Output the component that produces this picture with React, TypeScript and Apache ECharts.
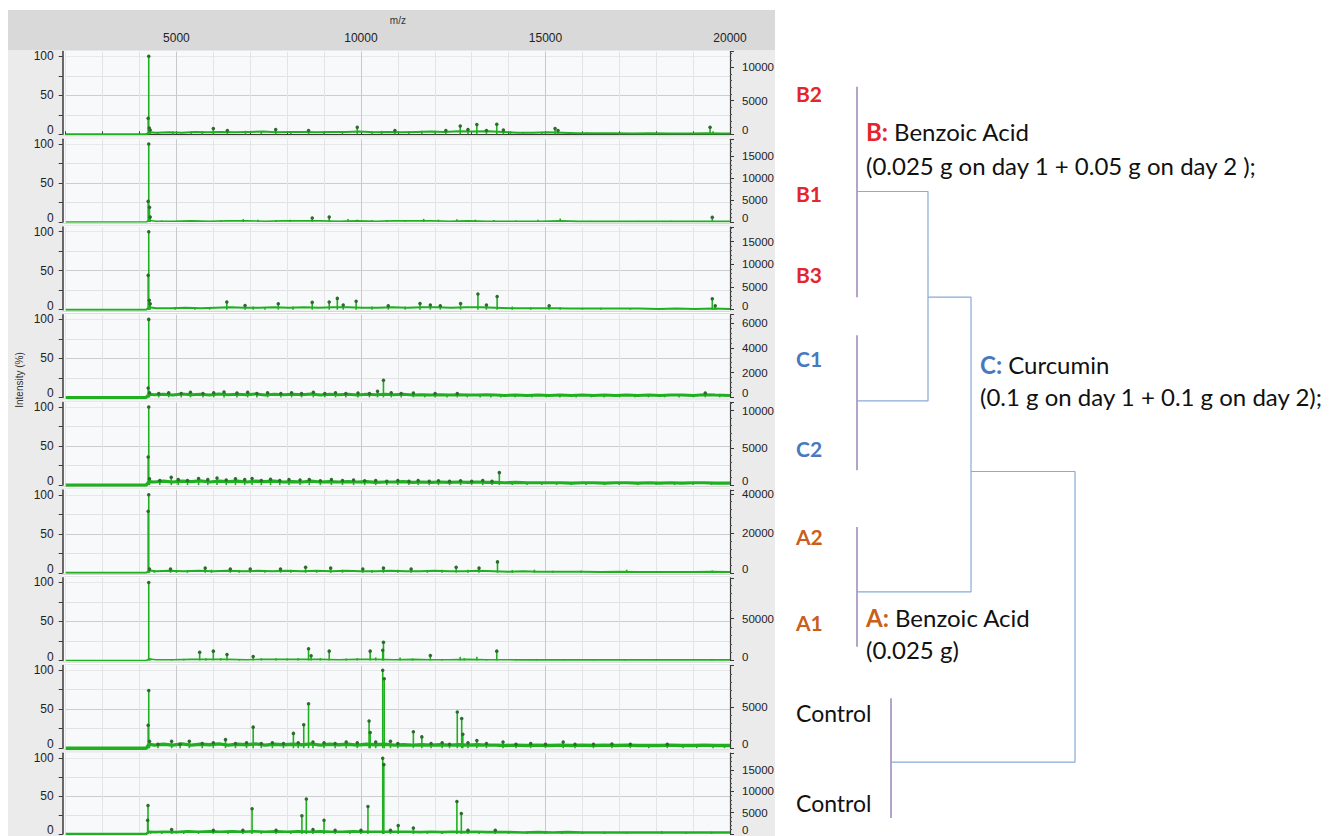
import React, { useEffect, useRef } from 'react';
import * as echarts from 'echarts';

// ---------------- data ----------------
const MZ_MIN = 2000;
const MZ_MAX = 20000;
const MZ_TICK = 1000;
const MZ_LABEL_STEP = 5000;

const sampleNames = ['B2', 'B1', 'B3', 'C1', 'C2', 'A2', 'A1', 'Control', 'Control'];
const sampleGroups = ['B', 'B', 'B', 'C', 'C', 'A', 'A', 'Control', 'Control'];

const intensityMax = 106;
const intensityStep = 25;
const countsAxisMax = [12300, 18800, 18200, 6670, 11100, 41900, 99000, 10000, 19000];
const countsAxisStep = [5000, 5000, 5000, 2000, 5000, 20000, 50000, 5000, 5000];

type P = [number, number];

const baselineB2: P[] = [[2000,0],[4180,0],[4260,2.5],[4450,2],[4800,2.5],[5150,2],[5500,3],[5850,2.5],[6200,3],[6600,2.5],[6950,3],[7350,3.5],[7700,2.5],[8050,3],[8450,3],[8800,2.5],[9200,3],[9600,3],[9950,3.5],[10350,2.5],[10750,3],[11100,2.5],[11500,3],[11900,3.5],[12250,3],[12650,4],[13000,3.5],[13450,4],[13850,3],[14250,2],[14650,2],[15050,2.5],[15450,2],[15850,1.5],[16350,1.5],[16850,1.5],[17350,1],[17850,1.5],[18350,1],[18850,1],[19350,1.5],[19800,1],[20000,1]];
const peaksB2: P[] = [[4235,20.5],[4250,100],[4265,8],[4290,5.5],[4500,3],[4900,3.5],[5400,3.5],[5700,4],[6000,7.5],[6380,5],[6870,4.5],[7300,4],[7690,6],[8100,4],[8580,5],[9000,3.5],[9500,4],[9900,9],[10300,4],[10560,4.5],[10920,5],[11300,3.5],[11650,4.5],[12010,4.5],[12300,5],[12690,10.5],[12900,6],[13140,12.5],[13400,5],[13680,13],[13860,5.5],[14050,4],[14400,3],[14900,3],[15260,7.5],[15340,5],[15700,2.5],[16130,2.5],[17020,2],[17750,2],[18500,1.5],[19460,9],[19540,4]];

const baselineB1: P[] = [[2000,0],[4180,0],[4260,2],[4450,1],[4900,1],[5400,1.5],[5900,1],[6400,1.5],[6900,1.5],[7400,1],[7900,1.5],[8400,1.5],[8900,1.5],[9400,1],[9900,1.5],[10400,1],[10900,1.5],[11400,1.5],[11900,1.5],[12400,1],[12900,1.5],[13400,1],[13900,1],[14400,1],[14900,1],[15400,1.5],[15900,0.8],[16400,1],[16900,0.8],[17400,1],[17900,0.8],[18400,1],[18900,0.8],[19400,1],[20000,0.8]];
const peaksB1: P[] = [[4235,26.5],[4250,100],[4270,18.8],[4290,6.4],[4600,2],[5200,1.5],[6200,2],[6810,3.8],[7210,3],[7700,2.5],[8080,3],[8680,5],[9140,6.4],[9650,4],[9900,3],[10300,2.5],[10710,2.5],[11200,2.5],[11700,4],[12100,3],[12600,3.5],[13100,3],[13600,2.5],[14200,2],[14800,3],[15400,4.5],[16200,1.5],[17500,1.5],[18400,1.5],[19520,6]];

const baselineB3: P[] = [[2000,0],[4180,0],[4260,3],[4450,2],[4850,2],[5250,2.5],[5650,2],[6050,2.5],[6450,3],[6850,2.5],[7250,2.5],[7650,3],[8050,2.5],[8450,3],[8850,2.5],[9250,3],[9650,3],[10050,2.5],[10450,2.5],[10850,3],[11250,2.5],[11650,3],[12050,3],[12450,2.5],[12850,3],[13250,3],[13650,2.5],[14050,2],[14450,2],[14850,2],[15250,2],[15650,1.5],[16050,1.5],[16550,1.5],[17050,1.5],[17550,1.5],[18050,1],[18550,1.5],[19050,1],[19550,1.5],[20000,1]];
const peaksB3: P[] = [[4235,44],[4250,100],[4265,12],[4290,7.7],[4965,3.4],[5500,3],[5900,3],[6365,9.8],[6860,5.5],[7080,4],[7400,3],[7760,7.7],[8160,4],[8680,9.4],[9140,9.8],[9360,14.5],[9520,6],[9870,10.7],[10300,4],[10740,5],[11200,4],[11600,8],[11880,6],[12150,5],[12700,8],[13170,20],[13400,6],[13690,17],[14100,4],[14600,3],[15100,5],[15400,3],[16000,2],[16500,2.5],[17300,2],[18200,2],[19520,14],[19600,5]];

const baselineC1: P[] = [[2000,0],[4180,0],[4260,4],[4400,3.5],[4650,4],[4900,3],[5150,4.5],[5400,3.5],[5650,4],[5900,3],[6150,4.5],[6400,3.5],[6650,4],[6900,3.5],[7150,4.5],[7400,3],[7650,4],[7900,3.5],[8150,4],[8400,3.5],[8650,4.5],[8900,3],[9150,4],[9400,3.5],[9650,4],[9900,3],[10150,4],[10400,3.5],[10650,4],[10900,3.5],[11150,4],[11400,3],[11650,3.5],[11900,3],[12150,3.5],[12400,3],[12650,3.5],[12900,3],[13150,3],[13400,3.5],[13650,3],[13900,2.5],[14200,3],[14500,2.5],[14800,3],[15100,2.5],[15400,3],[15700,2.5],[16000,3],[16300,2.5],[16600,3],[16900,2.5],[17200,3],[17500,2.5],[17800,3],[18100,2.5],[18400,3],[18700,3],[19000,2.5],[19300,3.5],[19600,3],[20000,2.5]];
const peaksC1: P[] = [[4235,12],[4250,100],[4270,6],[4520,5],[4790,6],[5130,5],[5380,6.5],[5720,5],[6010,6],[6290,7],[6640,5.5],[6930,6.5],[7180,5],[7470,6],[7830,5],[8120,6],[8390,5],[8710,6.5],[9020,5],[9310,6],[9590,5],[9920,5.5],[10230,5],[10450,8],[10610,22],[10820,6],[11090,5],[11420,5.5],[11730,4.5],[12010,5],[12330,4.5],[12610,5],[12880,4.5],[13230,4],[13520,4.5],[13790,4],[14180,4],[14630,3.5],[15020,3.5],[15390,4],[15830,3.5],[16240,4],[16590,3.5],[17010,4],[17420,3.5],[17790,4],[18230,3.5],[18620,4.5],[19010,4],[19330,5.5],[19720,4.5]];

const baselineC2: P[] = [[2000,0],[4180,0],[4260,4.5],[4400,4],[4650,5],[4900,4],[5150,5],[5400,4.5],[5650,5.5],[5900,4],[6150,5],[6400,4.5],[6650,5],[6900,4],[7150,5],[7400,4.5],[7650,5],[7900,4],[8150,4.5],[8400,4],[8650,5],[8900,4],[9150,4.5],[9400,4],[9650,4.5],[9900,4],[10150,4.5],[10400,3.5],[10650,4],[10900,4],[11150,4.5],[11400,3.5],[11650,4],[11900,3.5],[12150,4],[12400,3.5],[12650,4],[12900,3.5],[13150,4],[13400,3.5],[13650,3.5],[13900,3],[14200,3.5],[14500,3],[14800,3],[15100,3],[15400,3],[15700,2.5],[16000,3],[16300,3],[16600,2.5],[16900,3],[17200,3],[17500,2.5],[17800,3],[18100,2.5],[18400,3],[18700,2.5],[19000,3],[19300,3],[19600,2.5],[20000,2.5]];
const peaksC2: P[] = [[4235,36],[4250,100],[4270,8],[4550,6],[4860,10],[5050,7],[5300,6],[5600,8.5],[5850,7],[6100,9],[6350,6.5],[6600,8],[6850,7],[7050,8.5],[7300,6],[7550,7.5],[7800,6],[8050,7],[8350,6.5],[8600,7],[8900,5.5],[9200,7],[9500,6],[9800,6.5],[10100,5.5],[10400,6],[10700,5],[11000,6],[11300,5],[11550,6],[11850,5],[12100,5.5],[12400,5],[12700,5.5],[13000,5],[13300,6],[13550,5],[13750,16],[14100,4.5],[14500,4],[14900,3.5],[15300,4],[15700,3.5],[16100,4],[16600,3.5],[17000,4],[17500,3],[18000,3.5],[18500,3],[19000,3.5],[19500,4]];

const baselineA2: P[] = [[2000,0],[4180,0],[4260,3],[4450,2],[4800,2.5],[5200,2],[5600,2.5],[6000,2],[6400,2.5],[6800,2],[7200,2.5],[7600,2],[8000,2.5],[8400,2],[8800,2.5],[9200,2],[9600,2.5],[10000,2],[10400,2],[10800,2.5],[11200,2],[11600,2],[12000,2.5],[12400,2],[12800,2],[13200,2.5],[13600,2],[14000,1.5],[14400,2],[14800,1.5],[15200,1.5],[15600,1.5],[16000,1.5],[16500,1],[17000,1.5],[17500,1],[18000,1],[18500,1],[19000,1],[19500,1.5],[20000,1]];
const peaksA2: P[] = [[4235,79],[4250,100],[4270,5],[4400,2],[4840,5],[5000,3.5],[5300,3],[5780,6],[5950,4],[6460,5],[6700,3.5],[7000,5],[7400,3],[7820,5],[8100,4],[8500,7],[8800,3.5],[9180,6],[9500,4],[10050,5],[10300,3.5],[10610,6],[11000,4],[11360,5],[11800,3.5],[12200,4],[12580,7],[12900,4],[13200,6],[13700,14],[14100,3.5],[14700,4],[15200,2.5],[15960,3],[16700,2],[17200,4],[18000,2],[18800,2],[19520,3]];

const baselineA1: P[] = [[2000,0],[4180,0],[4260,2],[4450,1],[4900,1],[5400,1.5],[5900,1.5],[6400,1.5],[6900,1],[7400,1.5],[7900,1.5],[8400,1.5],[8900,1.5],[9400,1],[9900,1.5],[10400,1.5],[10900,1],[11400,1.5],[11900,1],[12400,1],[12900,1.5],[13400,1],[13900,1],[14400,0.8],[14900,1],[15400,0.8],[15900,0.8],[16400,0.8],[16900,0.8],[17400,0.8],[17900,0.8],[18400,0.8],[18900,0.8],[19400,0.8],[20000,0.8]];
const peaksA1: P[] = [[4250,100],[4265,3],[4300,2.5],[4870,1.5],[5200,2],[5630,10.7],[5800,3],[6000,12],[6200,3],[6370,7.7],[6700,2],[7080,5],[7300,3],[7700,3],[8000,2.5],[8300,3],[8580,15],[8650,6],[8900,3],[9140,12],[9600,2.5],[9900,3],[10250,12],[10400,4],[10590,13],[10610,23.5],[11060,4],[11400,2.5],[11880,6.4],[12200,2],[12690,4.7],[12800,3],[13140,4.7],[13400,2],[13680,12],[14200,1.5],[14760,2],[15500,1.5],[16300,1.5],[17160,2],[18000,1],[19510,1.5]];

const baselineCtrl1: P[] = [[2000,0],[4180,0],[4260,5],[4400,4],[4650,5],[4900,4],[5150,5.5],[5400,4],[5650,5],[5900,4.5],[6150,5.5],[6400,4],[6650,5],[6900,4.5],[7150,5.5],[7400,4],[7650,5],[7900,4.5],[8150,5],[8400,4.5],[8650,5.5],[8900,4],[9150,5],[9400,4.5],[9650,5],[9900,4],[10150,5],[10400,4.5],[10650,5],[10900,4],[11150,4.5],[11400,4],[11650,4.5],[11900,4],[12150,4.5],[12400,4],[12650,4.5],[12900,4],[13150,4.5],[13400,4],[13650,4],[13900,3.5],[14200,4],[14500,3.5],[14800,4],[15100,3.5],[15400,4],[15700,3.5],[16000,4],[16300,3.5],[16600,4],[16900,3.5],[17200,4],[17500,3.5],[17800,3.5],[18100,3.5],[18400,4],[18700,3.5],[19000,3.5],[19300,4],[19600,3.5],[20000,3.5]];
const peaksCtrl1: P[] = [[4235,29.5],[4250,74],[4270,9],[4500,5],[4870,9],[5100,5],[5350,9],[5700,6],[6000,7],[6330,11],[6600,6],[6900,7],[7080,27],[7300,6],[7600,7],[7900,6],[8170,19],[8300,7],[8450,30],[8580,57],[8700,8],[9000,7],[9300,6],[9600,8],[9900,7],[10220,35],[10250,20],[10400,8],[10590,100],[10630,89],[10800,9],[11000,6],[11420,21],[11650,14.5],[11900,6],[12200,7],[12400,5],[12610,46.5],[12730,38],[12760,18],[12900,7],[13140,10],[13400,6],[13850,8],[14200,5],[14600,6],[15000,5],[15480,8],[15800,5],[16300,5],[16800,5.5],[17300,5],[17800,4.5],[18300,5],[18730,4],[19100,4.5],[19540,4],[19850,4]];

const baselineCtrl2: P[] = [[2000,0],[4180,0],[4260,3],[4400,2.5],[4700,3],[5000,2.5],[5300,3.5],[5600,3],[5900,3.5],[6200,3],[6500,3.5],[6800,3],[7100,3.5],[7400,3],[7700,3.5],[8000,3],[8300,3.5],[8600,3],[8900,3.5],[9200,3],[9500,3],[9800,3.5],[10100,3],[10400,3],[10700,3],[11000,3],[11300,3],[11600,2.5],[11900,3],[12200,2.5],[12500,3],[12800,2.5],[13100,3],[13400,2.5],[13700,2.5],[14000,2.5],[14400,2],[14800,2.5],[15200,2],[15600,2.5],[16000,2],[16400,2],[16800,2],[17200,2],[17600,2],[18000,2],[18400,2],[18800,2],[19200,2],[19600,2],[20000,2]];
const peaksCtrl2: P[] = [[4220,18],[4230,37.5],[4300,3],[4600,3],[4870,6],[5200,3],[5600,4],[6000,5],[6400,4],[6800,5],[7050,33],[7300,4],[7700,5],[8100,4],[8400,24],[8520,46],[8700,6],[9000,18],[9300,5],[9700,4],[10000,5],[10190,36],[10590,99.5],[10620,91],[10800,5],[11010,11],[11420,8],[11800,4],[12200,4],[12600,42.6],[12720,27],[12900,5],[13200,4],[13640,5],[14000,3],[14500,3],[15000,3],[15440,4],[16000,3],[16600,3],[17200,2.5],[18150,4],[18800,2.5],[19500,3]];

const spectraBaselines = [baselineB2, baselineB1, baselineB3, baselineC1, baselineC2, baselineA2, baselineA1, baselineCtrl1, baselineCtrl2];
const spectraPeaks = [peaksB2, peaksB1, peaksB3, peaksC1, peaksC2, peaksA2, peaksA1, peaksCtrl1, peaksCtrl2];
const markerThreshold = 5;

// dendrogram (x: linkage distance, y: leaf position)
const leafPosition = [0, 1.13, 2.05, 2.99, 4.0, 5.0, 5.97, 6.99, 8.0];
const leafLabelDist = -0.61;
const groupBarDist = [0, 0, 0, 0.34];
const groupBarStart = [-0.07, 2.73, 4.89, 6.82];
const groupBarEnd = [2.30, 4.25, 6.24, 8.17];
const mergeDist = [0.71, 1.14, 2.18];
const mergeUpperDist = [0, 0.71, 1.14];
const mergeUpperPos = [1.11, 2.30, 4.265];
const mergeLowerDist = [0, 0, 0.34];
const mergeLowerPos = [3.47, 5.62, 7.54];

const annotations = [
  { key: 'B', head: 'B:', line1: ' Benzoic Acid', line2: '(0.025 g on day 1 + 0.05 g on day 2 );', x: 866, y1: 131, y2: 165 },
  { key: 'C', head: 'C:', line1: ' Curcumin', line2: '(0.1 g on day 1 + 0.1 g on day 2);', x: 980, y1: 364, y2: 396 },
  { key: 'A', head: 'A:', line1: ' Benzoic Acid', line2: '(0.025 g)', x: 866, y1: 617, y2: 649 },
];

// ---------------- styling / layout ----------------
const W = 1342;
const H = 836;
const PANEL_TOP0 = 51.6;
const PANEL_PITCH = 87.7;
const PANEL_H = 82.7;
const PLOT_L = 65.7;
const PLOT_R = 730;
const AXIS_X = 62.7;
const GREEN = '#1fb01f';
const MARK = '#2f6a2f';
const AXIS_C = '#3a3a3a';
const baselineWidth = [2, 1.6, 2, 3, 3.2, 2, 1.6, 3.4, 2.6];
const groupColor: Record<string, string> = { B: '#e3262b', C: '#4a78be', A: '#c8601a', Control: '#111111' };
const FONT_AX = 'Liberation Sans';
const FONT_TXT = 'Lato';

function buildOption() {
  const grids: any[] = [];
  const xAxes: any[] = [];
  const yAxes: any[] = [];
  const series: any[] = [];
  const graphics: any[] = [];

  const vColors = ['#e4e4e6', '#e4e4e6', '#e4e4e6', '#c9c9cc', '#e4e4e6'];
  const hColors = ['rgba(0,0,0,0)', '#e2e2e4', '#cdcdd0', '#e2e2e4', '#e8e8ea', 'rgba(0,0,0,0)'];
  const zeroRich = (size: number) => ({
    z: { padding: [0, 0, 8, 0], fontSize: size, color: '#222', fontFamily: FONT_AX },
  });

  // backgrounds
  graphics.push({ type: 'rect', z: -20, silent: true, shape: { x: 8, y: 10, width: 767, height: H - 10 }, style: { fill: '#ebebeb' } });
  graphics.push({ type: 'rect', z: -19, silent: true, shape: { x: 8, y: 10, width: 767, height: 40 }, style: { fill: '#d9d9d9' } });
  graphics.push({ type: 'rect', z: -19, silent: true, shape: { x: AXIS_X, y: 50, width: PLOT_R - AXIS_X, height: H - 50 }, style: { fill: '#d6d6d8' } });

  for (let i = 0; i < 9; i++) {
    const top = PANEL_TOP0 + i * PANEL_PITCH;
    graphics.push({ type: 'rect', z: -18, silent: true, shape: { x: AXIS_X, y: top - 1, width: PLOT_R - AXIS_X, height: PANEL_H + 2 }, style: { fill: '#f8f9fb' } });
    if (i < 8) {
      graphics.push({ type: 'rect', z: -17, silent: true, shape: { x: AXIS_X, y: top + PANEL_H + 2.2, width: PLOT_R - AXIS_X, height: 1.2 }, style: { fill: '#ffffff' } });
    }
    grids.push({ left: PLOT_L, right: W - PLOT_R, top, height: PANEL_H, containLabel: false });
    xAxes.push({
      type: 'value', gridIndex: i, min: MZ_MIN, max: MZ_MAX, interval: MZ_TICK,
      position: i === 0 ? 'top' : 'bottom',
      name: i === 0 ? 'm/z' : '', nameLocation: 'middle', nameGap: 26,
      nameTextStyle: { fontSize: 10, color: '#333', fontFamily: FONT_AX },
      axisLine: { show: i === 0, lineStyle: { color: AXIS_C, width: 1.2 } },
      axisTick: { show: i === 0, length: 3, lineStyle: { color: AXIS_C } },
      axisLabel: {
        show: i === 0, interval: 0, margin: 8, fontSize: 12, color: '#222', fontFamily: FONT_AX,
        formatter: (v: number) => (v % MZ_LABEL_STEP === 0 ? String(v) : ''),
      },
      splitLine: { show: true, lineStyle: { color: vColors, width: 1 } },
    });
    yAxes.push({
      type: 'value', gridIndex: i, position: 'left', offset: PLOT_L - AXIS_X,
      min: 0, max: intensityMax, interval: intensityStep,
      axisLine: { show: true, lineStyle: { color: AXIS_C, width: 1.5 } },
      axisTick: { show: true, length: 4, lineStyle: { color: AXIS_C } },
      axisLabel: {
        showMaxLabel: false, margin: 9, fontSize: 12, color: '#222', fontFamily: FONT_AX,
        formatter: (v: number) => (v === 0 ? '{z|0}' : v % 50 === 0 && v <= 100 ? String(v) : ''),
        rich: zeroRich(12),
      },
      splitLine: { show: true, lineStyle: { color: hColors, width: 1 } },
    });
    yAxes.push({
      type: 'value', gridIndex: i, position: 'right',
      min: 0, max: countsAxisMax[i], interval: countsAxisStep[i],
      axisLine: { show: true, lineStyle: { color: AXIS_C, width: 1.2 } },
      axisTick: { show: true, length: 4, lineStyle: { color: AXIS_C } },
      minorTick: { show: true, splitNumber: 5, length: 2, lineStyle: { color: '#555' } },
      axisLabel: {
        showMaxLabel: false, margin: 12, fontSize: 11.5, color: '#222', fontFamily: FONT_AX,
        formatter: (v: number) => (v === 0 ? '{z|0}' : String(v)),
        rich: zeroRich(11.5),
      },
      splitLine: { show: false },
    });

    series.push({
      type: 'line', xAxisIndex: i, yAxisIndex: 2 * i, data: spectraBaselines[i],
      symbol: 'none', lineStyle: { color: GREEN, width: baselineWidth[i] }, z: 3, silent: true,
    });
    series.push({
      type: 'bar', xAxisIndex: i, yAxisIndex: 2 * i, data: spectraPeaks[i],
      barWidth: 1.6, itemStyle: { color: GREEN }, z: 4, silent: true,
    });
    series.push({
      type: 'scatter', xAxisIndex: i, yAxisIndex: 2 * i,
      data: spectraPeaks[i].filter((p) => p[1] >= markerThreshold),
      symbol: 'circle', symbolSize: 3.5, itemStyle: { color: MARK, opacity: 1 }, z: 5, silent: true,
    });
  }

  // dendrogram coordinate system
  const dIdx = 9;
  grids.push({ left: 757, right: 85, top: 4.25, bottom: 6.375 });
  xAxes.push({ type: 'value', gridIndex: dIdx, min: -1, max: 4, show: false });
  yAxes.push({ type: 'value', gridIndex: dIdx, min: -1, max: 8.3, inverse: true, show: false });
  const dY = 18;

  for (let g = 0; g < groupBarDist.length; g++) {
    series.push({
      type: 'line', xAxisIndex: dIdx, yAxisIndex: dY, symbol: 'none', silent: true,
      data: [[groupBarDist[g], groupBarStart[g]], [groupBarDist[g], groupBarEnd[g]]],
      lineStyle: { color: '#8566a8', width: 1.2 },
    });
  }
  for (let m = 0; m < mergeDist.length; m++) {
    series.push({
      type: 'line', xAxisIndex: dIdx, yAxisIndex: dY, symbol: 'none', silent: true,
      data: [
        [mergeUpperDist[m], mergeUpperPos[m]],
        [mergeDist[m], mergeUpperPos[m]],
        [mergeDist[m], mergeLowerPos[m]],
        [mergeLowerDist[m], mergeLowerPos[m]],
      ],
      lineStyle: { color: '#88abd8', width: 1.2 },
    });
  }
  series.push({
    type: 'scatter', xAxisIndex: dIdx, yAxisIndex: dY, symbolSize: 0, silent: true,
    itemStyle: { opacity: 1 },
    data: leafPosition.map((p, i) => ({ value: [leafLabelDist, p], name: sampleNames[i], group: sampleGroups[i] })),
    label: {
      show: true, position: 'right', distance: 0, opacity: 1,
      formatter: (p: any) => `{${p.data.group}|${p.data.name}}`,
      rich: {
        B: { color: groupColor.B, fontWeight: 'bold', fontSize: 21, fontFamily: FONT_TXT },
        C: { color: groupColor.C, fontWeight: 'bold', fontSize: 21, fontFamily: FONT_TXT },
        A: { color: groupColor.A, fontWeight: 'bold', fontSize: 21, fontFamily: FONT_TXT },
        Control: { color: groupColor.Control, fontSize: 23, fontFamily: FONT_TXT },
      },
    },
  });

  // annotations
  for (const a of annotations) {
    graphics.push({
      type: 'text', x: a.x, y: a.y1, silent: true,
      style: {
        text: `{h|${a.head}}${a.line1}`,
        fill: '#111', fontSize: 24, fontFamily: FONT_TXT, verticalAlign: 'middle',
        rich: { h: { fill: groupColor[a.key], fontWeight: 'bold', fontSize: 24, fontFamily: FONT_TXT } },
      },
    });
    graphics.push({
      type: 'text', x: a.x, y: a.y2, silent: true,
      style: { text: a.line2, fill: '#111', fontSize: 24, fontFamily: FONT_TXT, verticalAlign: 'middle' },
    });
  }

  // y-axis title
  graphics.push({
    type: 'text', x: 19, y: 380, rotation: Math.PI / 2, silent: true,
    style: { text: 'Intensity (%)', fill: '#333', fontSize: 10, fontFamily: FONT_AX, align: 'center', verticalAlign: 'middle' },
  });

  return {
    animation: false,
    backgroundColor: '#ffffff',
    grid: grids,
    xAxis: xAxes,
    yAxis: yAxes,
    series,
    graphic: graphics,
  };
}

export default function App() {
  const ref = useRef<HTMLDivElement>(null);
  useEffect(() => {
    if (!ref.current) return;
    const chart = echarts.init(ref.current, undefined, { renderer: 'svg' });
    chart.setOption(buildOption() as any);
    return () => chart.dispose();
  }, []);
  return (
    <div
      ref={ref}
      style={{ position: 'fixed', left: 0, top: 0, width: W, height: H, background: '#fff' }}
    />
  );
}
